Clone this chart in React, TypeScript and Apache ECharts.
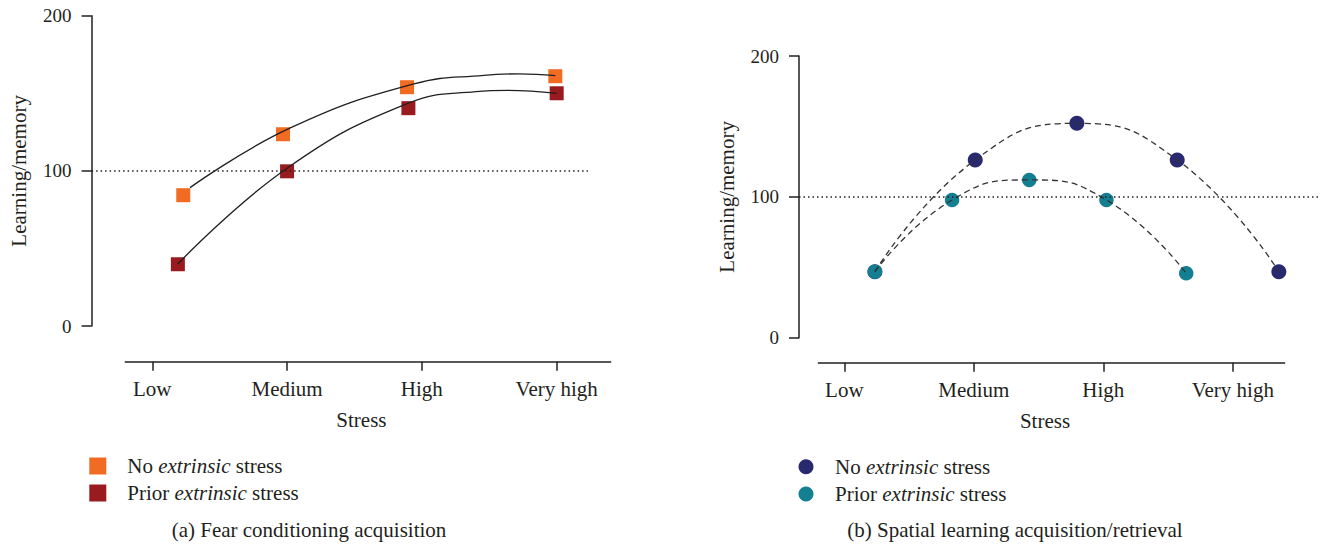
import React, { useEffect, useRef } from "react";
import * as echarts from "echarts";

// ---------- data ----------
const stressLevels = ["Low", "Medium", "High", "Very high"];
const stressTicks = [1, 2, 3, 4];
const yAxisName = "Learning/memory";
const xAxisName = "Stress";
const baselineValue = 100;
const captions = ["(a) Fear conditioning acquisition", "(b) Spatial learning acquisition/retrieval"];

// Panel (a) Fear conditioning acquisition  [stress position, learning/memory]
const fearNoStress = [[1.23, 84.3], [1.97, 123.6], [2.89, 153.9], [3.99, 161.0]];
const fearPriorStress = [[1.19, 39.8], [2.0, 99.7], [2.9, 140.4], [4.0, 150.0]];
// fitted curves
const fearNoStressFit = [[1.28, 89.2], [2.02, 127.5], [2.94, 156.0], [3.46, 161.6], [3.72, 162.5], [3.99, 161.4]];
const fearPriorStressFit = [[1.19, 40.0], [2.0, 101.7], [2.9, 143.6], [3.4, 151.0], [3.64, 151.9], [4.0, 150.0]];

// Panel (b) Spatial learning acquisition/retrieval
const spatialNoStress = [[1.24, 46.9], [2.02, 126.2], [2.81, 152.2], [3.59, 126.2], [4.38, 46.9]];
const spatialPriorStress = [[1.24, 46.9], [1.84, 97.8], [2.44, 112.0], [3.04, 97.8], [3.66, 45.7]];

// ---------- style ----------
const FONT = "'Liberation Serif', 'Times New Roman', serif";
const INK = "#231F20";
const ORANGE = "#F26B22";
const DARKRED = "#9A1B1F";
const NAVY = "#29296F";
const TEAL = "#137F91";

function buildOption(): any {
  const catFmt = (v: number) => {
    const i = stressTicks.indexOf(Math.round(v));
    return i >= 0 ? stressLevels[i] : "";
  };
  const legendFmt = (name: string) =>
    name.replace(/ \([ab]\)$/, "").replace("extrinsic", "{i|extrinsic}");

  const visibleX = (gridIndex: number, min: number, max: number) => ({
    type: "value",
    gridIndex,
    min,
    max,
    position: "bottom",
    axisLine: { show: true, lineStyle: { color: INK, width: 1.5 } },
    axisTick: { show: true, customValues: stressTicks, length: 9, lineStyle: { color: INK, width: 1.5 } },
    axisLabel: {
      show: true,
      customValues: stressTicks,
      formatter: catFmt,
      margin: 16.5,
      fontSize: 21,
      fontFamily: FONT,
      color: INK,
    },
    splitLine: { show: false },
    name: xAxisName,
    nameLocation: "middle",
    nameGap: 48,
    nameTextStyle: { fontSize: 21, fontFamily: FONT, color: INK, padding: [0, 13, 0, 0] },
  });
  const hiddenX = (gridIndex: number, min: number, max: number) => ({
    type: "value",
    gridIndex,
    min,
    max,
    show: false,
  });
  const visibleY = (gridIndex: number) => ({
    type: "value",
    gridIndex,
    min: 0,
    max: 200,
    interval: 100,
    axisLine: { show: true, lineStyle: { color: INK, width: 1.5 } },
    axisTick: { show: true, length: 10, lineStyle: { color: INK, width: 1.5 } },
    axisLabel: { margin: 20, fontSize: 19, fontFamily: FONT, color: INK },
    splitLine: { show: false },
    name: yAxisName,
    nameLocation: "middle",
    nameGap: 62,
    nameTextStyle: { fontSize: 21, fontFamily: FONT, color: INK },
  });
  const hiddenY = (gridIndex: number) => ({ type: "value", gridIndex, min: 0, max: 1, show: false });

  const baseline = (x0: number, x1: number) => ({
    silent: true,
    symbol: ["none", "none"],
    label: { show: false },
    lineStyle: { type: [1.5, 3], color: INK, width: 1.5 },
    data: [[{ coord: [x0, baselineValue] }, { coord: [x1, baselineValue] }]],
  });

  const legendText = (pad: number) => ({
    fontSize: 21,
    fontFamily: FONT,
    color: INK,
    lineHeight: 21,
    padding: [0, 0, 0, pad],
    rich: { i: { fontStyle: "italic", fontSize: 21, fontFamily: FONT, color: INK, lineHeight: 21 } },
  });

  const dot = (color: string) => ({ color, opacity: 1 });

  return {
    animation: false,
    backgroundColor: "#ffffff",
    grid: [
      { left: 91.6, top: 15.7, width: 519, height: 310.3 },
      { left: 125.3, top: 340, width: 485.3, height: 21.7 },
      { left: 799, top: 56, width: 524.5, height: 281.7 },
      { left: 818.4, top: 340, width: 466.2, height: 22.7 },
    ],
    xAxis: [hiddenX(0, 0.55, 4.4), visibleX(1, 0.8, 4.4), hiddenX(2, 0.65, 4.7), visibleX(3, 0.8, 4.4)],
    yAxis: [visibleY(0), hiddenY(1), visibleY(2), hiddenY(3)],
    legend: [
      {
        data: ["No extrinsic stress (a)", "Prior extrinsic stress (a)"],
        orient: "vertical",
        left: 89.3,
        top: 455.5,
        padding: 0,
        itemWidth: 17,
        itemHeight: 17,
        itemGap: 6,
        icon: "rect",
        formatter: legendFmt,
        textStyle: legendText(16),
        itemStyle: { opacity: 1 },
        selectedMode: false,
      },
      {
        data: ["No extrinsic stress (b)", "Prior extrinsic stress (b)"],
        orient: "vertical",
        left: 798.5,
        top: 456.2,
        padding: 0,
        itemWidth: 15,
        itemHeight: 15,
        itemGap: 6.3,
        icon: "circle",
        formatter: legendFmt,
        textStyle: legendText(16.5),
        itemStyle: { opacity: 1 },
        selectedMode: false,
      },
    ],
    graphic: [
      {
        type: "text",
        x: 309,
        y: 530,
        style: {
          text: captions[0],
          fill: INK,
          font: `21px ${FONT}`,
          align: "center",
          verticalAlign: "middle",
          textAlign: "center",
          textVerticalAlign: "middle",
        },
      },
      {
        type: "text",
        x: 1015,
        y: 530,
        style: {
          text: captions[1],
          fill: INK,
          font: `21px ${FONT}`,
          align: "center",
          verticalAlign: "middle",
          textAlign: "center",
          textVerticalAlign: "middle",
        },
      },
    ],
    series: [
      // ---- panel (a) ----
      {
        name: "No extrinsic stress (a)",
        type: "scatter",
        xAxisIndex: 0,
        yAxisIndex: 0,
        data: fearNoStress,
        symbol: "rect",
        symbolSize: 14,
        itemStyle: dot(ORANGE),
        z: 2,
        markLine: baseline(0.55, 4.232),
      },
      {
        name: "Prior extrinsic stress (a)",
        type: "scatter",
        xAxisIndex: 0,
        yAxisIndex: 0,
        data: fearPriorStress,
        symbol: "rect",
        symbolSize: 14,
        itemStyle: dot(DARKRED),
        z: 2,
      },
      {
        name: "No extrinsic stress fit (a)",
        type: "line",
        xAxisIndex: 0,
        yAxisIndex: 0,
        data: fearNoStressFit,
        smooth: 0.45,
        showSymbol: false,
        symbol: "none",
        lineStyle: { color: INK, width: 1.3 },
        z: 3,
      },
      {
        name: "Prior extrinsic stress fit (a)",
        type: "line",
        xAxisIndex: 0,
        yAxisIndex: 0,
        data: fearPriorStressFit,
        smooth: 0.45,
        showSymbol: false,
        symbol: "none",
        lineStyle: { color: INK, width: 1.3 },
        z: 3,
      },
      // ---- panel (b) ----
      {
        name: "No extrinsic stress (b)",
        type: "scatter",
        xAxisIndex: 2,
        yAxisIndex: 2,
        data: spatialNoStress,
        symbol: "circle",
        symbolSize: 15,
        itemStyle: dot(NAVY),
        z: 2,
        markLine: baseline(0.65, 4.7),
      },
      {
        name: "Prior extrinsic stress (b)",
        type: "scatter",
        xAxisIndex: 2,
        yAxisIndex: 2,
        data: spatialPriorStress,
        symbol: "circle",
        symbolSize: 14.5,
        itemStyle: dot(TEAL),
        z: 2,
      },
      {
        name: "No extrinsic stress trend (b)",
        type: "line",
        xAxisIndex: 2,
        yAxisIndex: 2,
        data: spatialNoStress,
        smooth: 0.5,
        showSymbol: false,
        symbol: "none",
        lineStyle: { color: "#333333", width: 1.3, type: [6, 4] },
        z: 3,
      },
      {
        name: "Prior extrinsic stress trend (b)",
        type: "line",
        xAxisIndex: 2,
        yAxisIndex: 2,
        data: spatialPriorStress,
        smooth: 0.5,
        showSymbol: false,
        symbol: "none",
        lineStyle: { color: "#333333", width: 1.3, type: [6, 4] },
        z: 3,
      },
    ],
  };
}

export default function App() {
  const ref = useRef<HTMLDivElement>(null);
  useEffect(() => {
    if (!ref.current) return;
    const chart = echarts.init(ref.current, undefined, { renderer: "svg" });
    chart.setOption(buildOption());
    return () => chart.dispose();
  }, []);
  return (
    <div
      ref={ref}
      style={{ position: "fixed", left: 0, top: 0, width: 1320, height: 545, background: "#fff" }}
    />
  );
}
